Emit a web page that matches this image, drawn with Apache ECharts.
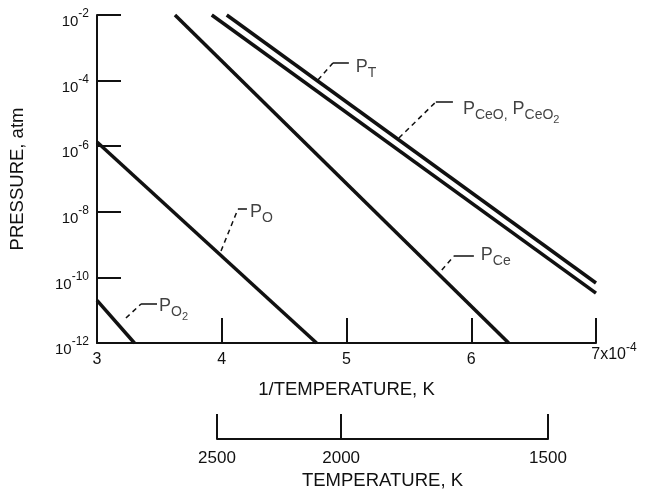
<!DOCTYPE html>
<html><head><meta charset="utf-8">
<script src="https://cdn.jsdelivr.net/npm/echarts@6/dist/echarts.min.js"></script>
<style>html,body{margin:0;padding:0;background:#fff}#c{width:646px;height:491px}</style>
</head><body><div id="c"></div>
<script>
// x: 1/T in units of 1e-4 K^-1 ; y: log10(pressure / atm)
const xTicks = [3, 4, 5, 6, 7];
const yTicks = [-12, -10, -8, -6, -4, -2];
const tempTicks = [2500, 2000, 1500];

// curves (straight lines in this plot): [1/T, log10 P]
const P_T    = [[4.04, -2], [7.00, -10.17]];
const P_CeO  = [[3.92, -2], [7.00, -10.48]];
const P_Ce   = [[3.625, -2], [6.30, -12]];
const P_O    = [[3.00, -5.87], [4.76, -12]];
const P_O2   = [[3.00, -10.70], [3.30, -12]];

// leader lines: tip, elbow, end
const leadT   = [[4.771, -3.982], [4.891, -3.463], [5.019, -3.463]];
const leadCeO = [[5.420, -5.750], [5.716, -4.652], [5.853, -4.652]];
const leadCe  = [[5.764, -9.774], [5.861, -9.348], [6.021, -9.348]];
const leadO   = [[3.994, -9.195], [4.130, -7.915], [4.202, -7.915]];
const leadO2  = [[3.232, -11.238], [3.353, -10.811], [3.481, -10.811]];

// label anchors
const labT   = [5.075, -3.585];
const labCeO = [5.933, -4.866];
const labCe  = [6.077, -9.317];
const labO   = [4.226, -8.006];
const labO2  = [3.497, -10.872];

const FF = 'Liberation Sans, Arial, sans-serif';
const INK = '#111';

const labelRich = {
  p:  {fontSize: 18, lineHeight: 18, fontFamily: FF, color: INK},
  s:  {fontSize: 14, lineHeight: 14, padding: [12, 0, 0, 0], fontFamily: FF, color: INK},
  ss: {fontSize: 11, lineHeight: 11, padding: [22, 0, 0, 0], fontFamily: FF, color: INK}
};

function curve(data) {
  return {type: 'line', xAxisIndex: 0, yAxisIndex: 0, data, symbol: 'none', silent: true,
    lineStyle: {color: INK, width: 3.5, cap: 'butt'}, clip: true, animation: false};
}
function leader(pts) {
  return [
    {type: 'line', xAxisIndex: 0, yAxisIndex: 0, data: [pts[0], pts[1]], symbol: 'none', silent: true,
      lineStyle: {color: INK, width: 1.5, type: [5, 4]}, animation: false},
    {type: 'line', xAxisIndex: 0, yAxisIndex: 0, data: [pts[1], pts[2]], symbol: 'none', silent: true,
      lineStyle: {color: INK, width: 1.5}, animation: false}
  ];
}
function label(pt, text) {
  return {type: 'scatter', xAxisIndex: 0, yAxisIndex: 0, data: [pt], symbolSize: 0, silent: true, animation: false,
    label: {show: true, position: 'right', distance: 0, formatter: text, rich: labelRich}};
}

const chart = echarts.init(document.getElementById('c'));
chart.setOption({
  backgroundColor: '#fff',
  animation: false,
  textStyle: {fontFamily: FF, color: INK},
  grid: [
    {left: 96, right: 50, top: 15, bottom: 148},
    {left: 217, right: 98, top: 414, height: 25}
  ],
  xAxis: [
    {
      type: 'value', gridIndex: 0, min: xTicks[0], max: xTicks[xTicks.length - 1], interval: 1,
      name: '1/TEMPERATURE, K', nameLocation: 'middle', nameGap: 37,
      nameTextStyle: {fontSize: 18.5, fontFamily: FF, color: INK},
      axisLine: {lineStyle: {color: INK, width: 2}},
      axisTick: {inside: true, length: 25, lineStyle: {color: INK, width: 2}},
      splitLine: {show: false},
      axisLabel: {
        fontSize: 16, lineHeight: 25, margin: 4, color: INK, fontFamily: FF,
        formatter: v => v === 7 ? '{g| }{n|7x10}{e|-4}' : String(v),
        rich: {
          g: {width: 36, fontSize: 16, lineHeight: 16},
          n: {fontSize: 16, lineHeight: 16, fontFamily: FF, color: INK},
          e: {fontSize: 12, lineHeight: 12, padding: [0, 0, 14, 0], fontFamily: FF, color: INK}
        }
      }
    },
    {
      type: 'value', gridIndex: 1, min: 1e4 / tempTicks[0], max: 1e4 / tempTicks[tempTicks.length - 1],
      name: 'TEMPERATURE, K', nameLocation: 'middle', nameGap: 32,
      nameTextStyle: {fontSize: 18.5, fontFamily: FF, color: INK},
      axisLine: {lineStyle: {color: INK, width: 2}},
      axisTick: {inside: true, length: 25, lineStyle: {color: INK, width: 2},
        customValues: tempTicks.map(t => 1e4 / t)},
      splitLine: {show: false},
      axisLabel: {fontSize: 17, margin: 11, color: INK, fontFamily: FF,
        customValues: tempTicks.map(t => 1e4 / t),
        formatter: v => String(Math.round(1e4 / v))}
    }
  ],
  yAxis: [
    {
      type: 'value', gridIndex: 0, min: yTicks[0], max: yTicks[yTicks.length - 1], interval: 2,
      name: 'PRESSURE, atm', nameLocation: 'middle', nameGap: 70,
      nameTextStyle: {fontSize: 18.5, fontFamily: FF, color: INK},
      axisLine: {lineStyle: {color: INK, width: 2}},
      axisTick: {inside: true, length: 24, lineStyle: {color: INK, width: 2}},
      splitLine: {show: false},
      axisLabel: {
        margin: 8, color: INK, fontFamily: FF,
        formatter: v => '{b|10}{s|' + v + '}',
        rich: {
          b: {fontSize: 15, lineHeight: 15, padding: [14, 0, 0, 0], fontFamily: FF, color: INK},
          s: {fontSize: 12, lineHeight: 12, padding: [0, 0, 2, 0], fontFamily: FF, color: INK}
        }
      }
    },
    {type: 'value', gridIndex: 1, min: 0, max: 1, show: false}
  ],
  series: [
    curve(P_T), curve(P_CeO), curve(P_Ce), curve(P_O), curve(P_O2),
    ...leader(leadT), ...leader(leadCeO), ...leader(leadCe), ...leader(leadO), ...leader(leadO2),
    label(labT, '{p|P}{s|T}'),
    label(labCeO, '{p|P}{s|CeO,}{p| P}{s|CeO}{ss|2}'),
    label(labCe, '{p|P}{s|Ce}'),
    label(labO, '{p|P}{s|O}'),
    label(labO2, '{p|P}{s|O}{ss|2}'),
    {type: 'scatter', xAxisIndex: 1, yAxisIndex: 1, data: []}
  ]
});
</script></body></html>
